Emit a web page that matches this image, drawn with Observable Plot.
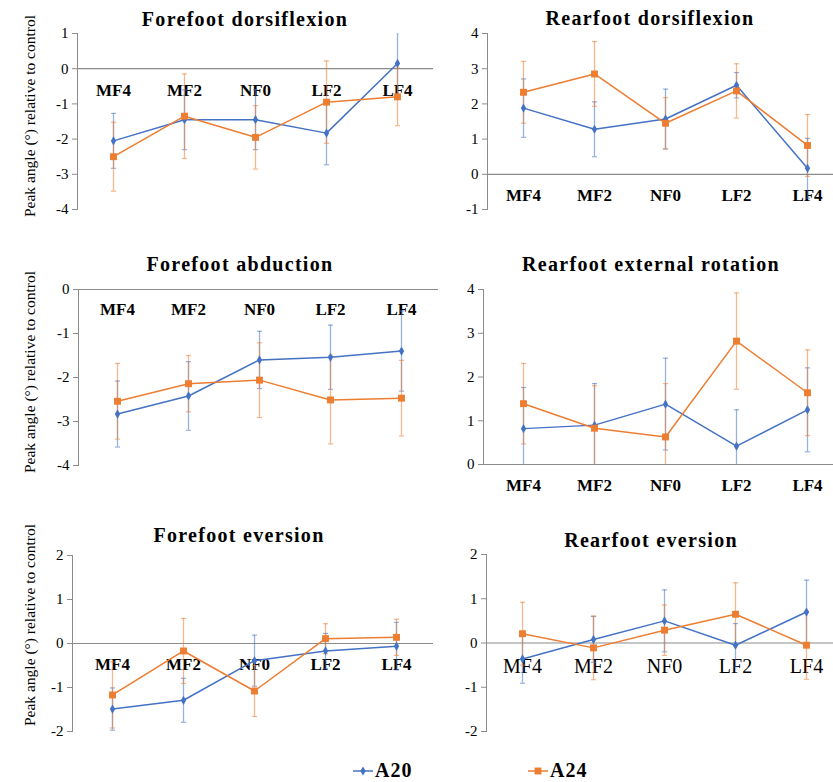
<!DOCTYPE html>
<html>
<head>
<meta charset="utf-8">
<script src="https://cdn.jsdelivr.net/npm/d3@7"></script>
<script src="https://cdn.jsdelivr.net/npm/@observablehq/plot@0.6"></script>
<style>
  html, body { margin: 0; padding: 0; background: #fff; }
  #root { position: relative; width: 833px; height: 782px; overflow: hidden; background: #fff;
          font-family: "Liberation Serif", "Times New Roman", serif; color: #000; }
  .title { position: absolute; font-weight: bold; font-size: 20px; letter-spacing: 1.3px;
           line-height: 1; white-space: nowrap; transform: translateX(-50%); }
  .ylab { position: absolute; font-size: 15.5px; line-height: 1; white-space: nowrap;
          transform: translate(-50%, -50%) rotate(-90deg); }
  .leg { position: absolute; font-weight: bold; font-size: 20px; letter-spacing: 1px; line-height: 1;
         white-space: nowrap; display: flex; align-items: center; }
  .leg svg { margin-right: 2px; }
</style>
</head>
<body>
<div id="root"></div>
<script>
// ---------- data ----------
const categories = ["MF4", "MF2", "NF0", "LF2", "LF4"];
const seriesNames = ["A20", "A24"];
const panelTitles = ["Forefoot dorsiflexion", "Rearfoot dorsiflexion", "Forefoot abduction",
                     "Rearfoot external rotation", "Forefoot eversion", "Rearfoot eversion"];
const yLabel = "Peak angle (°) relative to control";

const ffDorsiA20 = [-2.05, -1.45, -1.45, -1.83, 0.15];
const ffDorsiA20Err = [0.78, 0.85, 0.85, 0.90, 0.90];
const ffDorsiA24 = [-2.50, -1.35, -1.95, -0.95, -0.80];
const ffDorsiA24Err = [0.98, 1.20, 0.90, 1.17, 0.82];

const rfDorsiA20 = [1.88, 1.28, 1.57, 2.53, 0.17];
const rfDorsiA20Err = [0.83, 0.78, 0.85, 0.36, 0.85];
const rfDorsiA24 = [2.33, 2.85, 1.45, 2.37, 0.82];
const rfDorsiA24Err = [0.88, 0.92, 0.73, 0.77, 0.88];

const ffAbdA20 = [-2.83, -2.42, -1.60, -1.54, -1.40];
const ffAbdA20Err = [0.75, 0.78, 0.65, 0.73, 0.91];
const ffAbdA24 = [-2.54, -2.14, -2.06, -2.51, -2.47];
const ffAbdA24Err = [0.86, 0.64, 0.85, 1.00, 0.86];

const rfExtRotA20 = [0.82, 0.90, 1.38, 0.42, 1.25];
const rfExtRotA20Err = [0.94, 0.95, 1.05, 0.83, 0.96];
const rfExtRotA24 = [1.39, 0.83, 0.63, 2.82, 1.64];
const rfExtRotA24Err = [0.92, 0.97, 1.22, 1.10, 0.98];

const ffEvA20 = [-1.49, -1.29, -0.39, -0.17, -0.06];
const ffEvA20Err = [0.48, 0.50, 0.58, 0.40, 0.54];
const ffEvA24 = [-1.17, -0.17, -1.08, 0.11, 0.14];
const ffEvA24Err = [0.75, 0.74, 0.58, 0.34, 0.41];

const rfEvA20 = [-0.36, 0.08, 0.50, -0.05, 0.70];
const rfEvA20Err = [0.55, 0.52, 0.70, 0.49, 0.72];
const rfEvA24 = [0.21, -0.11, 0.29, 0.65, -0.05];
const rfEvA24Err = [0.71, 0.72, 0.57, 0.71, 0.77];

const ticksFfDorsi = [-4, -3, -2, -1, 0, 1];
const ticksRfDorsi = [-1, 0, 1, 2, 3, 4];
const ticksFfAbd = [-4, -3, -2, -1, 0];
const ticksRfExtRot = [0, 1, 2, 3, 4];
const ticksFfEv = [-2, -1, 0, 1, 2];
const ticksRfEv = [-2, -1, 0, 1, 2];

// ---------- styling / layout ----------
const BLUE = "#4472C4", ORANGE = "#ED7D31", AXIS = "#8c8c8c";
const SERIF = "Liberation Serif, Times New Roman, serif";

const panels = [
  {title: panelTitles[0], a20: ffDorsiA20, a20e: ffDorsiA20Err, a24: ffDorsiA24, a24e: ffDorsiA24Err, ticks: ticksFfDorsi,
   left: 0, top: 0, plotL: 77, plotT: 33, plotB: 209, xr: [77, 433], right: 433, labDy: 22, bold: true,
   tx: 245, tb: 26, ylab: [30, 116]},
  {title: panelTitles[1], a20: rfDorsiA20, a20e: rfDorsiA20Err, a24: rfDorsiA24, a24e: rfDorsiA24Err, ticks: ticksRfDorsi,
   left: 420, top: 0, plotL: 487, plotT: 33, plotB: 209, xr: [487, 843], right: 843, labDy: 21, bold: true,
   tx: 650, tb: 25},
  {title: panelTitles[2], a20: ffAbdA20, a20e: ffAbdA20Err, a24: ffAbdA24, a24e: ffAbdA24Err, ticks: ticksFfAbd,
   left: 0, top: 250, plotL: 78, plotT: 289, plotB: 465, xr: [80, 438], right: 438, labDy: 20, bold: true,
   tx: 240, tb: 271, ylab: [30, 372]},
  {title: panelTitles[3], a20: rfExtRotA20, a20e: rfExtRotA20Err, a24: rfExtRotA24, a24e: rfExtRotA24Err, ticks: ticksRfExtRot,
   left: 420, top: 250, plotL: 483, plotT: 289, plotB: 464, xr: [487, 843], right: 843, labDy: 21, bold: true,
   tx: 651, tb: 271},
  {title: panelTitles[4], a20: ffEvA20, a20e: ffEvA20Err, a24: ffEvA24, a24e: ffEvA24Err, ticks: ticksFfEv,
   left: 0, top: 510, plotL: 72, plotT: 555, plotB: 731, xr: [76, 432], right: 433, labDy: 21, bold: true,
   tx: 239, tb: 542, ylab: [30, 625]},
  {title: panelTitles[5], a20: rfEvA20, a20e: rfEvA20Err, a24: rfEvA24, a24e: rfEvA24Err, ticks: ticksRfEv,
   left: 420, top: 510, plotL: 486, plotT: 554, plotB: 731, xr: [485, 842], right: 843, labDy: 24, bold: false,
   tx: 651, tb: 547}
];

const capSymbol = {
  draw(ctx, size) { const r = Math.sqrt(size / Math.PI); ctx.moveTo(-r, 0); ctx.lineTo(r, 0); }
};

const root = document.getElementById("root");

function rows(means, errs, series) {
  return categories.map((c, i) => ({cat: c, v: means[i], lo: means[i] - errs[i], hi: means[i] + errs[i], series}));
}

for (const p of panels) {
  const d20 = rows(p.a20, p.a20e, "A20");
  const d24 = rows(p.a24, p.a24e, "A24");
  const mB = 45;
  const width = p.right - p.left;
  const height = p.plotB + mB - p.top;

  const errMarks = (data, color) => [
    Plot.ruleX(data, {x: "cat", y1: "lo", y2: "hi", stroke: color, strokeOpacity: 0.55, strokeWidth: 1.3, clip: true}),
    Plot.dot(data, {x: "cat", y: "lo", symbol: capSymbol, r: 2.6, stroke: color, fill: "none", strokeOpacity: 0.55, strokeWidth: 1.2, clip: true}),
    Plot.dot(data, {x: "cat", y: "hi", symbol: capSymbol, r: 2.6, stroke: color, fill: "none", strokeOpacity: 0.55, strokeWidth: 1.2, clip: true})
  ];

  const svg = Plot.plot({
    width, height,
    marginLeft: p.plotL - p.left, marginRight: 0,
    marginTop: p.plotT - p.top, marginBottom: mB,
    style: {background: "transparent", overflow: "visible", fontFamily: SERIF, fontSize: "15px", color: "#000"},
    x: {type: "point", domain: categories, range: [p.xr[0] - p.left, p.xr[1] - p.left], padding: 0.5, axis: null},
    y: {domain: [p.ticks[0], p.ticks[p.ticks.length - 1]], axis: null},
    marks: [
      Plot.frame({anchor: "left", stroke: AXIS, strokeWidth: 1}),
      Plot.axisY({ticks: p.ticks, tickSize: 5, tickPadding: 4, stroke: AXIS, tickFormat: d => String(d),
        fontSize: 15, fontFamily: SERIF, fill: "#000", label: null}),
      Plot.ruleY([0], {stroke: AXIS, strokeWidth: 1.2}),
      Plot.text(categories, {x: d => d, y: () => 0, dy: p.labDy, text: d => d,
        fontFamily: SERIF, fontWeight: p.bold ? "bold" : "normal", fontSize: p.bold ? 17 : 20, fill: "#000",
        textAnchor: "middle", lineAnchor: "middle", letterSpacing: 1}),
      ...errMarks(d20, BLUE),
      ...errMarks(d24, ORANGE),
      Plot.line(d20, {x: "cat", y: "v", stroke: BLUE, strokeWidth: 1.5}),
      Plot.dot(d20, {x: "cat", y: "v", symbol: "diamond", r: 2.8, fill: BLUE, stroke: "none"}),
      Plot.line(d24, {x: "cat", y: "v", stroke: ORANGE, strokeWidth: 1.5}),
      Plot.dot(d24, {x: "cat", y: "v", symbol: "square", r: 3.9, fill: ORANGE, stroke: "none"})
    ]
  });
  svg.style.position = "absolute";
  svg.style.left = p.left + "px";
  svg.style.top = p.top + "px";
  svg.style.maxWidth = "none";
  root.appendChild(svg);

  const t = document.createElement("div");
  t.className = "title";
  t.textContent = p.title;
  t.style.left = p.tx + "px";
  t.style.top = (p.tb - 0.8375 * 20) + "px";
  root.appendChild(t);

  if (p.ylab) {
    const yl = document.createElement("div");
    yl.className = "ylab";
    yl.textContent = yLabel;
    yl.style.left = p.ylab[0] + "px";
    yl.style.top = p.ylab[1] + "px";
    root.appendChild(yl);
  }
}

// ---------- legend ----------
const legendItems = [
  {name: seriesNames[0], color: BLUE, symbol: "diamond", x: 353},
  {name: seriesNames[1], color: ORANGE, symbol: "square", x: 528}
];
for (const it of legendItems) {
  const div = document.createElement("div");
  div.className = "leg";
  div.style.left = it.x + "px";
  div.style.top = "760px";
  const sw = document.createElementNS("http://www.w3.org/2000/svg", "svg");
  sw.setAttribute("width", 20); sw.setAttribute("height", 20);
  const ln = document.createElementNS("http://www.w3.org/2000/svg", "line");
  ln.setAttribute("x1", 0); ln.setAttribute("x2", 20); ln.setAttribute("y1", 11); ln.setAttribute("y2", 11);
  ln.setAttribute("stroke", it.color); ln.setAttribute("stroke-width", 1.5);
  sw.appendChild(ln);
  const sym = document.createElementNS("http://www.w3.org/2000/svg", "path");
  const s = it.symbol === "square" ? d3.symbol(d3.symbolSquare, 3.9 * 3.9 * Math.PI) : d3.symbol(d3.symbolDiamond, 2.8 * 2.8 * Math.PI);
  sym.setAttribute("d", s());
  sym.setAttribute("transform", "translate(10,11)");
  sym.setAttribute("fill", it.color);
  sw.appendChild(sym);
  div.appendChild(sw);
  const tx = document.createElement("span");
  tx.textContent = it.name;
  div.appendChild(tx);
  root.appendChild(div);
}
</script>
</body>
</html>
